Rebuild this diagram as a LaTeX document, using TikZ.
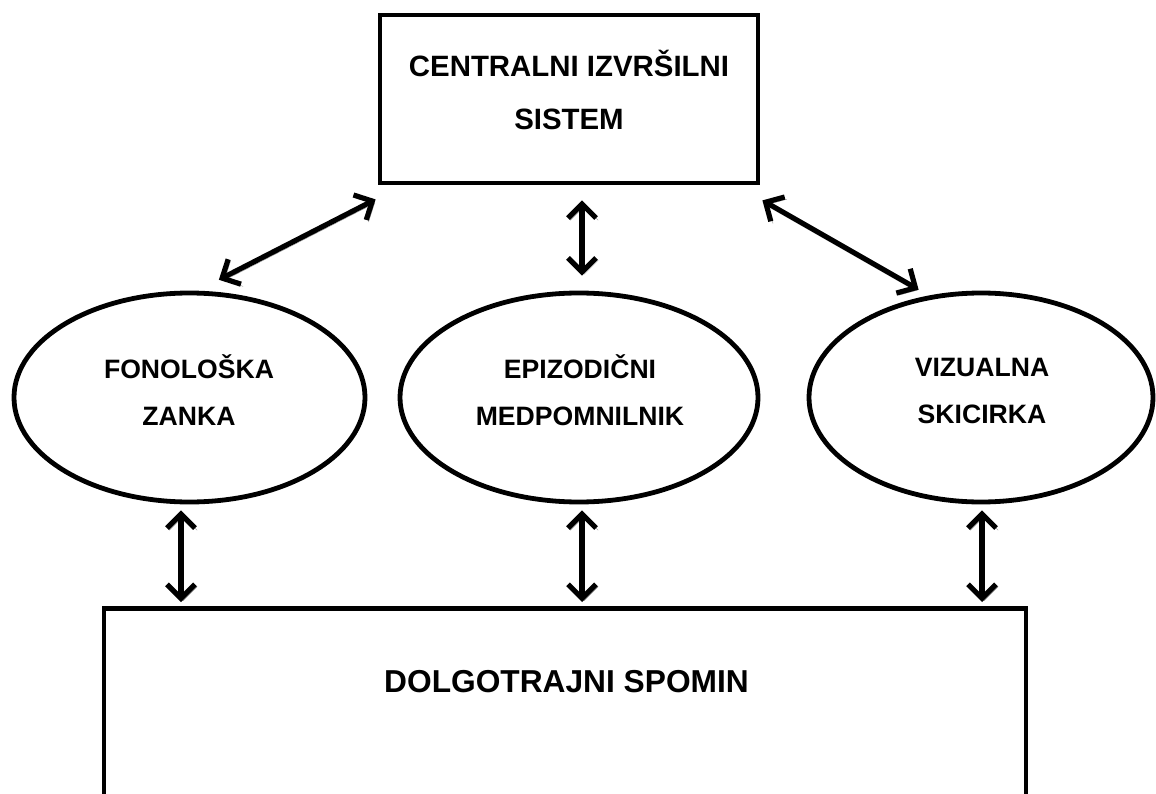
\documentclass[tikz,border=0pt]{standalone}
\usepackage{fontspec}
\setmainfont{Liberation Sans}
\usetikzlibrary{shapes.geometric,arrows.meta}
\tikzset{
  boxline/.style={draw=black, line width=4.8pt, inner sep=0pt},
  oval/.style={ellipse, draw=black, line width=4.8pt, inner sep=0pt},
  lbl/.style={inner sep=0pt, align=center, font=\bfseries\fontsize{26.6}{47}\selectfont},
  arr/.style={line width=5.2pt, {Straight Barb[length=14pt,width=28pt,line width=5.2pt]}-{Straight Barb[length=14pt,width=28pt,line width=5.2pt]},
    preaction={draw=black!45, transform canvas={xshift=2.2pt,yshift=-2.2pt}}}
}
\begin{document}
\begin{tikzpicture}[x=1pt,y=-1pt]
\useasboundingbox (0,0) rectangle (1156,794);
\clip (0,0) rectangle (1156,794);
% boxes
\node[boxline, minimum width=378pt, minimum height=168pt] (top) at (569,99) {};
\node[boxline, minimum width=922pt, minimum height=400pt, anchor=north] (ltm) at (565,606) {};
% ellipses
\node[oval, minimum width=351pt, minimum height=209pt] (fon) at (189.5,397.5) {};
\node[oval, minimum width=358pt, minimum height=209pt] (epi) at (579,397.5) {};
\node[oval, minimum width=344pt, minimum height=209pt] (vis) at (981,397.5) {};
% texts
\node[lbl, font=\bfseries\fontsize{29.4}{53}\selectfont] (toptxt) at (569,90) {CENTRALNI IZVRŠILNI\\SISTEM};
\node[lbl] (fontxt) at (189,390.5) {FONOLOŠKA\\ZANKA};
\node[lbl] (epitxt) at (580,390.5) {EPIZODIČNI\\MEDPOMNILNIK};
\node[lbl] (vistxt) at (982,391) {VIZUALNA\\SKICIRKA};
\node[lbl, font=\bfseries\fontsize{31.7}{37}\selectfont, anchor=base] (ltmtxt) at (566.5,692) {DOLGOTRAJNI SPOMIN};
% upper connectors
\draw[arr] ([xshift=-2pt,yshift=-14pt]top.south west) -- ([xshift=3pt,yshift=12pt]fon.76);
\draw[arr] ([xshift=13pt,yshift=-15pt]top.south) -- ([xshift=3pt,yshift=15pt]epi.north);
\draw[arr] ([xshift=2pt,yshift=-15pt]top.south east) -- ([yshift=8pt]vis.122);
% lower connectors
\draw[arr] ([xshift=-8.5pt,yshift=-6pt]fon.south) -- ([xshift=-8.5pt,yshift=4pt]fon.south |- ltm.north);
\draw[arr] ([xshift=3pt,yshift=-6pt]epi.south) -- ([xshift=3pt,yshift=4pt]epi.south |- ltm.north);
\draw[arr] ([xshift=1pt,yshift=-6pt]vis.south) -- ([xshift=1pt,yshift=4pt]vis.south |- ltm.north);
\end{tikzpicture}
\end{document}
